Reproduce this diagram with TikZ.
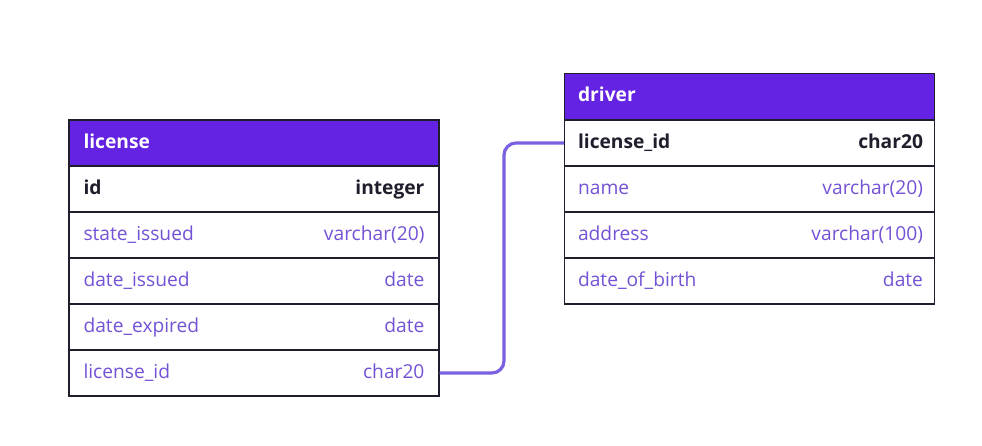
\documentclass[tikz,border=0pt]{standalone}
\usepackage{fontspec}
\setmainfont{Open Sans}
\usepackage{xcolor}
\usetikzlibrary{positioning, calc}
\definecolor{hdrpurple}{HTML}{6422E2}
\definecolor{txtpurple}{HTML}{7452D6}
\definecolor{linkpurple}{HTML}{7B60E2}
\definecolor{edge}{HTML}{1E1E2C}
\tikzset{
  tblhdr/.style={draw=edge,line width=1.1pt,fill=hdrpurple,minimum width=277.5pt,minimum height=34.5pt,inner sep=0pt},
  tblrow/.style={draw=edge,line width=1.1pt,fill=white,minimum width=277.5pt,minimum height=34.5pt,inner sep=0pt},
  cell/.style={inner sep=0pt,text height=10.5pt,text depth=3pt},
  keytxt/.style={cell,font=\fontsize{14.4}{17}\selectfont\bfseries,text=edge},
  coltxt/.style={cell,font=\fontsize{14.4}{17}\selectfont,text=txtpurple},
  hdrtxt/.style={cell,font=\fontsize{14.4}{17}\selectfont\bfseries,text=white},
  link/.style={draw=linkpurple,line width=2.4pt,rounded corners=9pt}
}
\begin{document}
\begin{tikzpicture}[x=0.75pt,y=-0.75pt]
  \useasboundingbox (0,0) rectangle (982,446);
  % license table
  \node[tblhdr] (lic0) at (254,143) {};
  \node[hdrtxt,anchor=west] at ($(lic0.west)+(15,0)$) {license};
  \node[tblrow] (lic1) at (254,189) {};
  \node[keytxt,anchor=west] at ($(lic1.west)+(15,0)$) {id};
  \node[keytxt,anchor=east] at ($(lic1.east)+(-15,0)$) {integer};
  \foreach \i/\y/\name/\type in {2/235/state\_issued/varchar(20),3/281/date\_issued/date,4/327/date\_expired/date,5/373/license\_id/char20}{
    \node[tblrow] (lic\i) at (254,\y) {};
    \node[coltxt,anchor=west] at ($(lic\i.west)+(15,0)$) {\name};
    \node[coltxt,anchor=east] at ($(lic\i.east)+(-15,0)$) {\type};
  }
  % driver table
  \node[tblhdr] (drv0) at (749.5,96.5) {};
  \node[hdrtxt,anchor=west] at ($(drv0.west)+(14,0)$) {driver};
  \node[tblrow] (drv1) at (749.5,143) {};
  \node[keytxt,anchor=west] at ($(drv1.west)+(14,0)$) {license\_id};
  \node[keytxt,anchor=east] at ($(drv1.east)+(-12,0)$) {char20};
  \foreach \i/\y/\name/\type in {2/189/name/varchar(20),3/235/address/varchar(100),4/281/date\_of\_birth/date}{
    \node[tblrow] (drv\i) at (749.5,\y) {};
    \node[coltxt,anchor=west] at ($(drv\i.west)+(14,0)$) {\name};
    \node[coltxt,anchor=east] at ($(drv\i.east)+(-12,0)$) {\type};
  }
  % relation
  \coordinate (bend) at (504,0);
  \draw[link] (lic5.east) -| (bend |- drv1.west) -- (drv1.west);
\end{tikzpicture}
\end{document}
